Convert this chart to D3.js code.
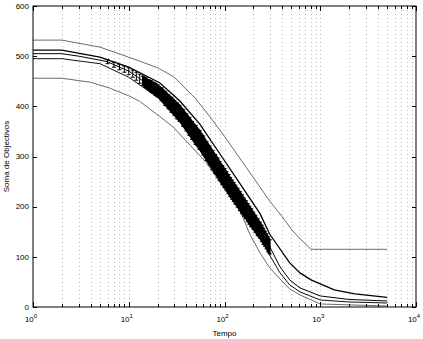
<!DOCTYPE html>
<html>
<head>
<meta charset="utf-8">
<script src="https://cdn.jsdelivr.net/npm/d3@7"></script>
<style>
  body { margin: 0; background: #fff; }
  text { font-family: "Liberation Sans", Arial, sans-serif; fill: #000; }
</style>
</head>
<body>
<div id="chart"></div>
<script>
const WIDTH = 423;
const HEIGHT = 339;

// x decades (log axis) and y ticks
const xDecades = [1, 10, 100, 1000, 10000];
const yTicks = [0, 100, 200, 300, 400, 500, 600];

// gray envelope lines
const maxT = [1, 2, 5, 10, 20, 30, 50, 70, 100, 150, 200, 300, 400, 500, 600, 800, 5000];
const maxV = [532, 532, 518, 498, 477, 458, 415, 380, 340, 292, 258, 210, 180, 155, 138, 115, 115];
const minT = [1, 2, 4, 6.4, 10, 13, 21, 29, 44, 65, 100, 145, 184, 235, 297, 380, 480, 615, 1000, 5000];
const minV = [456, 456, 448, 436, 421, 410, 380, 359, 322, 287, 235, 193, 145, 108, 78, 56, 36, 24, 6, 2];

// black lines
const upperT = [1, 2, 5, 10, 21, 34, 55, 89, 145, 235, 297, 480, 615, 800, 1400, 2300, 5000];
const upperV = [512, 512, 498, 478, 447, 411, 365, 306, 246, 186, 145, 88, 68, 54, 34, 26, 19];
const lowerT = [1, 2, 5, 10, 21, 34, 55, 89, 145, 235, 297, 380, 480, 615, 1000, 2000, 5000];
const lowerV = [495, 495, 485, 458, 415, 372, 318, 256, 196, 140, 103, 68, 44, 30, 14, 10, 8];

// mean line: head, error bar points, tail
const meanHeadT = [1, 2, 3, 5];
const meanHeadV = [505, 505, 500, 492];
const barT = [6, 7, 8, 9, 10, 11, 12, 13, 14, 15, 16, 17, 18, 19, 20, 22, 24, 26, 28, 30, 32, 34,
  37, 40, 43, 46, 50, 55, 60, 65, 70, 75, 80, 85, 89, 95, 100, 105, 110, 115, 120, 125, 130, 137,
  145, 152, 160, 167, 175, 182, 190, 200, 210, 222, 235, 245, 255, 265, 275, 286, 297];
const barMean = [489, 483, 478, 474, 470, 465, 460, 455, 451, 447, 443, 440, 437, 434, 431, 424, 416, 409, 403, 397, 391, 386,
  377, 368, 360, 352, 343, 333, 322, 311, 302, 293, 285, 278, 271, 263, 257, 251, 245, 239, 234, 229, 224, 218,
  211, 205, 199, 194, 188, 183, 178, 172, 166, 159, 153, 147, 141, 136, 131, 125, 120];
const barSd = [4, 5, 5, 6, 7, 7, 8, 9, 9, 10, 10, 11, 11, 12, 12, 13, 14, 14, 15, 15, 16, 16,
  17, 17, 18, 18, 19, 19, 19, 19, 19, 19, 19, 19, 19, 19, 19, 19, 19, 19, 19, 19, 19, 19,
  19, 19, 18, 18, 18, 18, 18, 17, 17, 17, 16, 16, 16, 15, 15, 15, 14];
const meanTailT = [380, 480, 615, 1000, 2000, 5000];
const meanTailV = [80, 54, 38, 22, 15, 12];

const margin = { top: 6, right: 7, bottom: 32, left: 33 };
const width = WIDTH - margin.left - margin.right;
const height = HEIGHT - margin.top - margin.bottom;

const x = d3.scaleLog().domain([1, 10000]).range([0, width]);
const y = d3.scaleLinear().domain([0, 600]).range([height, 0]);

const zip = (ts, vs) => ts.map((t, i) => ({ t, v: vs[i] }));
const line = d3.line().x(d => x(d.t)).y(d => y(d.v));

const svg = d3
  .select("#chart")
  .append("svg")
  .attr("width", WIDTH)
  .attr("height", HEIGHT);

const g = svg.append("g").attr("transform", `translate(${margin.left},${margin.top})`);

// dotted vertical grid at every log tick
const gridTicks = [];
xDecades.slice(0, -1).forEach(d => {
  for (let k = 1; k <= 9; k++) gridTicks.push(d * k);
});
const gridLines = gridTicks.filter(t => t > 1);
g.append("g")
  .selectAll("line")
  .data(gridLines)
  .enter()
  .append("line")
  .attr("x1", d => Math.round(x(d)) + 0.5)
  .attr("x2", d => Math.round(x(d)) + 0.5)
  .attr("y1", 0)
  .attr("y2", height)
  .attr("stroke", "#9a9a9a")
  .attr("stroke-width", 0.7)
  .attr("stroke-dasharray", "1,3");

// series lines
const drawLine = (data, color, w) =>
  g.append("path")
    .datum(data)
    .attr("fill", "none")
    .attr("stroke", color)
    .attr("stroke-width", w)
    .attr("d", line);

drawLine(zip(maxT, maxV), "#5a5a5a", 0.9);
drawLine(zip(minT, minV), "#5a5a5a", 0.9);
drawLine(zip(lowerT, lowerV), "#111", 1);
drawLine(zip(upperT, upperV), "#000", 1.3);

const bars = barT.map((t, i) => ({ t, v: barMean[i], sd: barSd[i] }));
const meanData = zip(meanHeadT, meanHeadV).concat(bars, zip(meanTailT, meanTailV));
drawLine(meanData, "#000", 1);

// error bars: solid band where they overlap, single bars where they don't
const dense = bars.filter(d => d.t >= 14);
g.append("path")
  .datum(dense)
  .attr("fill", "#000")
  .attr("stroke", "#000")
  .attr("stroke-width", 1.5)
  .attr("d", d3.area().x(d => x(d.t)).y0(d => y(d.v - d.sd)).y1(d => y(d.v + d.sd)));

const capW = 2;
const eb = g.append("g").attr("stroke", "#000").attr("stroke-width", 1);
bars.forEach(d => {
  const cx = x(d.t);
  eb.append("line").attr("x1", cx).attr("x2", cx).attr("y1", y(d.v - d.sd)).attr("y2", y(d.v + d.sd));
  eb.append("line").attr("x1", cx - capW).attr("x2", cx + capW).attr("y1", y(d.v - d.sd)).attr("y2", y(d.v - d.sd));
  eb.append("line").attr("x1", cx - capW).attr("x2", cx + capW).attr("y1", y(d.v + d.sd)).attr("y2", y(d.v + d.sd));
});

// frame
g.append("rect")
  .attr("x", 0)
  .attr("y", 0)
  .attr("width", width)
  .attr("height", height)
  .attr("fill", "none")
  .attr("stroke", "#000")
  .attr("stroke-width", 1);

// ticks (inward, top/bottom and left/right)
const tickG = g.append("g").attr("stroke", "#000").attr("stroke-width", 1);
gridTicks.concat([10000]).forEach(t => {
  const len = xDecades.includes(t) ? 5 : 3;
  const px = Math.round(x(t)) + 0.5;
  tickG.append("line").attr("x1", px).attr("x2", px).attr("y1", height).attr("y2", height - len);
  tickG.append("line").attr("x1", px).attr("x2", px).attr("y1", 0).attr("y2", len);
});
yTicks.forEach(v => {
  const py = Math.round(y(v)) + 0.5;
  tickG.append("line").attr("x1", 0).attr("x2", 4).attr("y1", py).attr("y2", py);
  tickG.append("line").attr("x1", width).attr("x2", width - 4).attr("y1", py).attr("y2", py);
});

// x tick labels as 10^k
const xl = g.append("g").style("font-size", "8px");
xDecades.forEach(t => {
  const label = xl.append("text")
    .attr("x", x(t) - 2)
    .attr("y", height + 15)
    .attr("text-anchor", "middle");
  label.append("tspan").text("10");
  label.append("tspan")
    .attr("dy", -4)
    .style("font-size", "6px")
    .text(Math.round(Math.log10(t)));
});

// y tick labels
g.append("g")
  .style("font-size", "8px")
  .selectAll("text")
  .data(yTicks)
  .enter()
  .append("text")
  .attr("x", -4)
  .attr("y", d => y(d))
  .attr("dy", "0.35em")
  .attr("text-anchor", "end")
  .text(d => d);

// axis titles
svg.append("text")
  .attr("x", margin.left + width / 2)
  .attr("y", 336)
  .attr("text-anchor", "middle")
  .style("font-size", "8px")
  .text("Tempo");

svg.append("text")
  .attr("transform", `translate(9,${margin.top + height / 2}) rotate(-90)`)
  .attr("text-anchor", "middle")
  .style("font-size", "8px")
  .text("Soma de Objectivos");
</script>
</body>
</html>
